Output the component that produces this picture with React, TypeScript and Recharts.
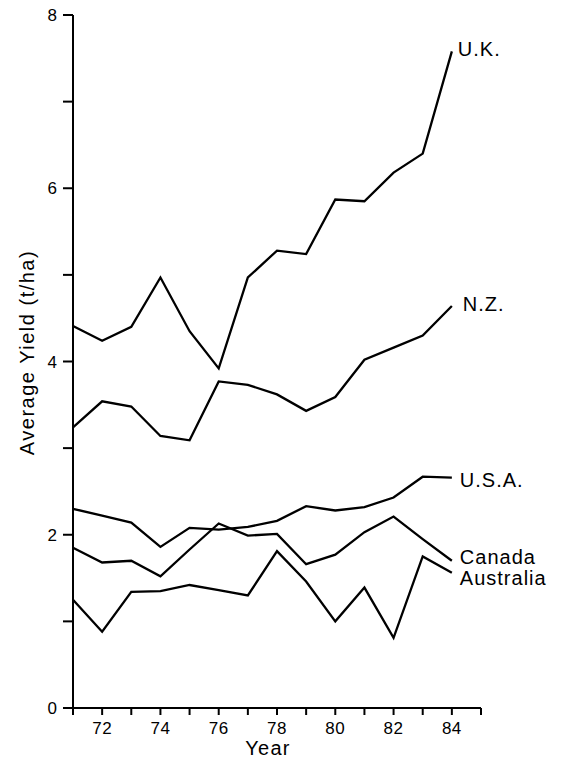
import React from "react";
import { LineChart, Line, XAxis, YAxis, Label } from "recharts";

const years = [71, 72, 73, 74, 75, 76, 77, 78, 79, 80, 81, 82, 83, 84];
const uk = [4.41, 4.24, 4.4, 4.97, 4.35, 3.92, 4.97, 5.28, 5.24, 5.87, 5.85, 6.18, 6.4, 7.58];
const nz = [3.24, 3.54, 3.48, 3.14, 3.09, 3.77, 3.73, 3.62, 3.43, 3.59, 4.02, 4.16, 4.3, 4.64];
const usa = [2.3, 2.22, 2.14, 1.86, 2.08, 2.06, 2.09, 2.16, 2.33, 2.28, 2.32, 2.43, 2.67, 2.66];
const canada = [1.85, 1.68, 1.7, 1.52, 1.83, 2.13, 1.99, 2.01, 1.66, 1.77, 2.03, 2.21, 1.95, 1.7];
const australia = [1.25, 0.88, 1.34, 1.35, 1.42, 1.36, 1.3, 1.81, 1.46, 1.0, 1.39, 0.81, 1.75, 1.56];

const xTicks = [71, 72, 73, 74, 75, 76, 77, 78, 79, 80, 81, 82, 83, 84, 85];
const yTicks = [0, 1, 2, 3, 4, 5, 6, 7, 8];

const seriesNames = ["U.K.", "N.Z.", "U.S.A.", "Canada", "Australia"];
const seriesKeys = ["uk", "nz", "usa", "canada", "australia"];
const labelOffsets: Record<string, [number, number]> = {
  uk: [6, -3],
  nz: [11, -2],
  usa: [8, 2],
  canada: [8, -4],
  australia: [8, 5],
};

const data = years.map((yr, i) => ({
  year: yr,
  uk: uk[i],
  nz: nz[i],
  usa: usa[i],
  canada: canada[i],
  australia: australia[i],
}));

const FONT = "'Liberation Sans', Arial, Helvetica, sans-serif";

const makeEndLabel = (key: string, name: string) => (props: any) => {
  const { x, y, index } = props;
  if (index !== years.length - 1) return null;
  const [dx, dy] = labelOffsets[key];
  return (
    <text
      x={x + dx}
      y={y + dy}
      dy="0.36em"
      fontFamily={FONT}
      fontSize={20}
      letterSpacing={1}
      fill="#000"
      textAnchor="start"
    >
      {name}
    </text>
  );
};

export default function App() {
  return (
    <LineChart
      width={554}
      height={750}
      data={data}
      margin={{ top: 7, right: 81, bottom: 20, left: 20 }}
    >
      <XAxis
        dataKey="year"
        type="number"
        domain={[71, 85]}
        ticks={xTicks}
        interval={0}
        tickFormatter={(v: number) => (v % 2 === 0 ? String(v) : "")}
        axisLine={{ stroke: "#000", strokeWidth: 2 }}
        tickLine={{ stroke: "#000", strokeWidth: 2 }}
        tickSize={7}
        tickMargin={7}
        height={30}
        tick={{ fill: "#000", fontSize: 17, fontFamily: FONT, letterSpacing: 0.5 }}
      >
        <Label
          content={(p: any) => {
            const vb = p.viewBox;
            return (
              <text
                x={vb.x + vb.width / 2 - 9}
                y={vb.y + 40}
                dy="0.36em"
                textAnchor="middle"
                fontFamily={FONT}
                fontSize={20}
                letterSpacing={1.3}
                fill="#000"
              >
                Year
              </text>
            );
          }}
        />
      </XAxis>
      <YAxis
        type="number"
        domain={[0, 8]}
        ticks={yTicks}
        interval={0}
        tickFormatter={(v: number) => (v % 2 === 0 ? String(v) : "")}
        axisLine={{ stroke: "#000", strokeWidth: 2 }}
        tickLine={{ stroke: "#000", strokeWidth: 2 }}
        tickSize={10}
        tickMargin={6}
        width={45}
        tick={{ fill: "#000", fontSize: 17, fontFamily: FONT }}
      >
        <Label
          content={(p: any) => {
            const vb = p.viewBox;
            const cx = vb.x - 1;
            const cy = vb.y + vb.height / 2 - 9;
            return (
              <text
                x={cx}
                y={cy}
                dy="0.36em"
                textAnchor="middle"
                transform={`rotate(-90 ${cx} ${cy})`}
                fontFamily={FONT}
                fontSize={20}
                letterSpacing={1.5}
                fill="#000"
              >
                Average Yield (t/ha)
              </text>
            );
          }}
        />
      </YAxis>
      {seriesKeys.map((k, i) => (
        <Line
          key={k}
          type="linear"
          dataKey={k}
          stroke="#000"
          strokeWidth={2.3}
          dot={false}
          activeDot={false}
          isAnimationActive={false}
          label={makeEndLabel(k, seriesNames[i])}
        />
      ))}
    </LineChart>
  );
}
